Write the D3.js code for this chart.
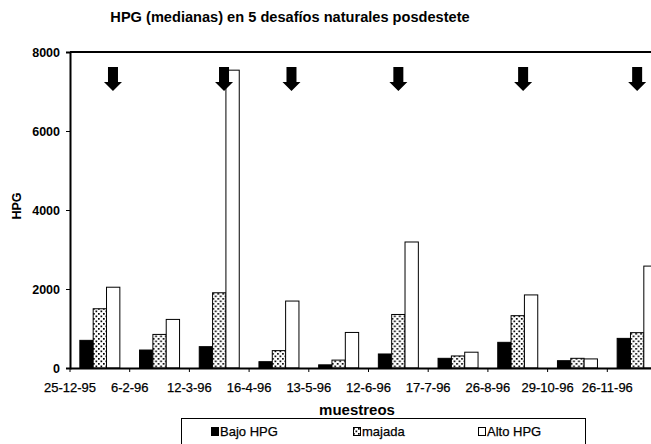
<!DOCTYPE html>
<meta charset="utf-8">
<style>
body { margin: 0; background: #fff; }
svg { display: block; font-family: "Liberation Sans", Arial, sans-serif; }
.title { font-size: 14.6px; font-weight: bold; }
.axis-title { font-weight: bold; }
.ytick text { font-size: 12.5px; font-weight: bold; }
.xtick text { font-size: 13px; stroke: #000; stroke-width: 0.25px; }
.legend text { font-family: "Liberation Sans Narrow", "Liberation Sans", sans-serif; font-size: 13px; stroke: #000; stroke-width: 0.25px; }
.bar { stroke: #000; stroke-width: 1px; }
</style>
<body>
<script src="https://cdn.jsdelivr.net/npm/d3@7"></script>
<script>

// sampling dates
var muestreos = ["25-12-95", "6-2-96", "12-3-96", "16-4-96", "13-5-96",
                 "12-6-96", "17-7-96", "26-8-96", "29-10-96", "26-11-96"];

// median HPG per group
var bajoHPG = [700, 455, 540, 160, 80, 355, 245, 650, 185, 750];
var majada  = [1500, 850, 1905, 440, 200, 1355, 305, 1325, 245, 895];
var altoHPG = [2045, 1230, 7540, 1695, 900, 3190, 400, 1850, 230, 2580];

var seriesNames = ["Bajo HPG", "majada", "Alto HPG"];
var yTicks = [0, 2000, 4000, 6000, 8000];

// challenge markers (category where each arrow sits)
var desafios = ["25-12-95", "12-3-96", "16-4-96", "12-6-96", "26-8-96", "26-11-96"];

var width = 651, height = 444;
var margin = { top: 52, left: 70, bottom: 76 };
var catWidth = 59.7;

var svg = d3.select("body").append("svg")
    .attr("width", width)
    .attr("height", height);

// dotted fill used for "majada"
var defs = svg.append("defs");
var pat = defs.append("pattern")
    .attr("id", "dots")
    .attr("patternUnits", "userSpaceOnUse")
    .attr("width", 5).attr("height", 5);
pat.append("rect").attr("width", 5).attr("height", 5).attr("fill", "#fff");
pat.append("rect").attr("x", 0.5).attr("y", 0.5).attr("width", 1.7).attr("height", 1.7).attr("fill", "#000");
pat.append("rect").attr("x", 3).attr("y", 3).attr("width", 1.7).attr("height", 1.7).attr("fill", "#000");

var fills = { "Bajo HPG": "#000", "majada": "url(#dots)", "Alto HPG": "#fff" };

var x = d3.scaleBand()
    .domain(muestreos)
    .range([margin.left, margin.left + catWidth * muestreos.length]);

var xSub = d3.scaleBand()
    .domain(seriesNames)
    .range([x.bandwidth() * 0.165, x.bandwidth() * 0.835]);

var y = d3.scaleLinear()
    .domain([0, 8000])
    .range([height - margin.bottom, margin.top]);

// title
svg.append("text")
    .attr("class", "title")
    .attr("x", 290).attr("y", 22)
    .attr("text-anchor", "middle")
    .text("HPG (medianas) en 5 desafíos naturales posdestete");

// top border of the plot area
svg.append("line")
    .attr("x1", margin.left).attr("x2", width)
    .attr("y1", y(8000)).attr("y2", y(8000))
    .attr("stroke", "#000").attr("stroke-width", 2);

// bars
var rows = muestreos.map(function(m, i) {
    return { cat: m, values: [
        { s: "Bajo HPG", v: bajoHPG[i] },
        { s: "majada", v: majada[i] },
        { s: "Alto HPG", v: altoHPG[i] }
    ]};
});

var groups = svg.append("g").selectAll("g")
    .data(rows)
    .join("g")
    .attr("transform", function(d) { return "translate(" + x(d.cat) + ",0)"; });

groups.selectAll("rect")
    .data(function(d) { return d.values; })
    .join("rect")
    .attr("class", "bar")
    .attr("x", function(d) { return xSub(d.s); })
    .attr("width", xSub.bandwidth())
    .attr("y", function(d) { return y(d.v); })
    .attr("height", function(d) { return y(0) - y(d.v); })
    .attr("fill", function(d) { return fills[d.s]; });

// y axis
var yAxis = svg.append("g")
    .attr("class", "ytick")
    .attr("transform", "translate(" + margin.left + ",0)")
    .call(d3.axisLeft(y).tickValues(yTicks).tickFormat(d3.format("d")).tickSize(4).tickPadding(6));
yAxis.select(".domain").attr("stroke-width", 2);
yAxis.selectAll("text").attr("fill", "#000");

// x axis: labels sit on the tick marks (category edges), as in the original
var xAxis = svg.append("g")
    .attr("class", "xtick")
    .attr("transform", "translate(0," + y(0) + ")")
    .call(d3.axisBottom(x).tickSize(4).tickPadding(11).tickSizeOuter(0));
xAxis.select(".domain").attr("stroke-width", 2);
xAxis.selectAll(".tick line").attr("transform", "translate(" + (-x.bandwidth() / 2) + ",0)");
xAxis.selectAll(".tick text")
    .attr("fill", "#000")
    .attr("transform", "translate(" + (-x.bandwidth() / 2) + ",0)");

// axis titles
svg.append("text")
    .attr("class", "axis-title")
    .attr("x", 357).attr("y", 415)
    .attr("text-anchor", "middle")
    .style("font-size", "15px")
    .text("muestreos");

svg.append("text")
    .attr("class", "axis-title")
    .attr("transform", "translate(21,206) rotate(-90)")
    .attr("text-anchor", "middle")
    .style("font-size", "12.5px")
    .text("HPG");

// arrows marking each challenge
var arrowAt = [0.72, 0.58, 0.71, 0.5, 0.59, 0.5];
var arrow = "M-5,0 L5,0 L5,15 L9,15 L0,24 L-9,15 L-5,15 Z";
svg.append("g").selectAll("path")
    .data(desafios)
    .join("path")
    .attr("d", arrow)
    .attr("fill", "#000")
    .attr("transform", function(d, i) {
        return "translate(" + (x(d) + x.bandwidth() * arrowAt[i]) + "," + y(7620) + ")";
    });

// legend
var legend = svg.append("g").attr("class", "legend");
legend.append("rect")
    .attr("x", 181.5).attr("y", 418.5)
    .attr("width", 404).attr("height", 30)
    .attr("fill", "#fff").attr("stroke", "#000");

var legendX = [211, 353, 478];
seriesNames.forEach(function(s, i) {
    legend.append("rect")
        .attr("class", "bar")
        .attr("x", legendX[i] + 0.5).attr("y", 427.5)
        .attr("width", 7).attr("height", 8)
        .attr("fill", fills[s]);
    legend.append("text")
        .attr("x", legendX[i] + 9).attr("y", 436)
        .text(s);
});

</script>
</body>
